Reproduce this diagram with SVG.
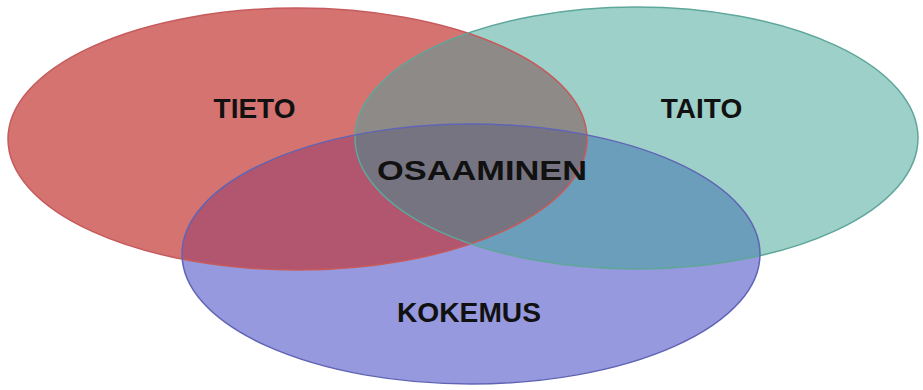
<svg xmlns="http://www.w3.org/2000/svg" width="923" height="390" viewBox="0 0 923 390">
<style>
.lbl{font-family:"Liberation Sans",Arial,sans-serif;font-weight:bold;font-size:28px;fill:#111;text-anchor:middle}
.edge{fill:none;stroke-width:1.5}
</style>
<defs>
<ellipse id="eR" cx="297.5" cy="139" rx="289.5" ry="131"/>
<ellipse id="eT" cx="636.5" cy="138" rx="281.5" ry="131"/>
<ellipse id="eB" cx="471" cy="254" rx="289" ry="130"/>
<clipPath id="cR"><use href="#eR"/></clipPath>
<clipPath id="cT"><use href="#eT"/></clipPath>
<clipPath id="cB"><use href="#eB"/></clipPath>
</defs>
<rect width="923" height="390" fill="#fff"/>
<g id="tieto">
<use href="#eR" fill="#D57371"/>
</g>
<g id="taito">
<use href="#eT" fill="#9DD0C8"/>
<g clip-path="url(#cR)"><use href="#eT" fill="#8D8A87"/></g>
</g>
<g id="kokemus">
<use href="#eB" fill="#9699DD"/>
<g clip-path="url(#cR)"><use href="#eB" fill="#B2566F"/></g>
<g clip-path="url(#cT)"><use href="#eB" fill="#6A9EBB"/></g>
<g clip-path="url(#cR)"><g clip-path="url(#cT)"><use href="#eB" fill="#767480"/></g></g>
</g>
<g id="edges">
<use href="#eR" class="edge" stroke="#C65A5C"/>
<use href="#eT" class="edge" stroke="#5FA69B"/>
<use href="#eB" class="edge" stroke="#6064B4"/>
</g>
<g id="labels">
<text class="lbl" x="254.5" y="118">TIETO</text>
<text class="lbl" x="701.5" y="118">TAITO</text>
<text class="lbl" x="482" y="180" textLength="210" lengthAdjust="spacingAndGlyphs">OSAAMINEN</text>
<text class="lbl" x="469" y="322" textLength="144" lengthAdjust="spacingAndGlyphs">KOKEMUS</text>
</g>
</svg>
